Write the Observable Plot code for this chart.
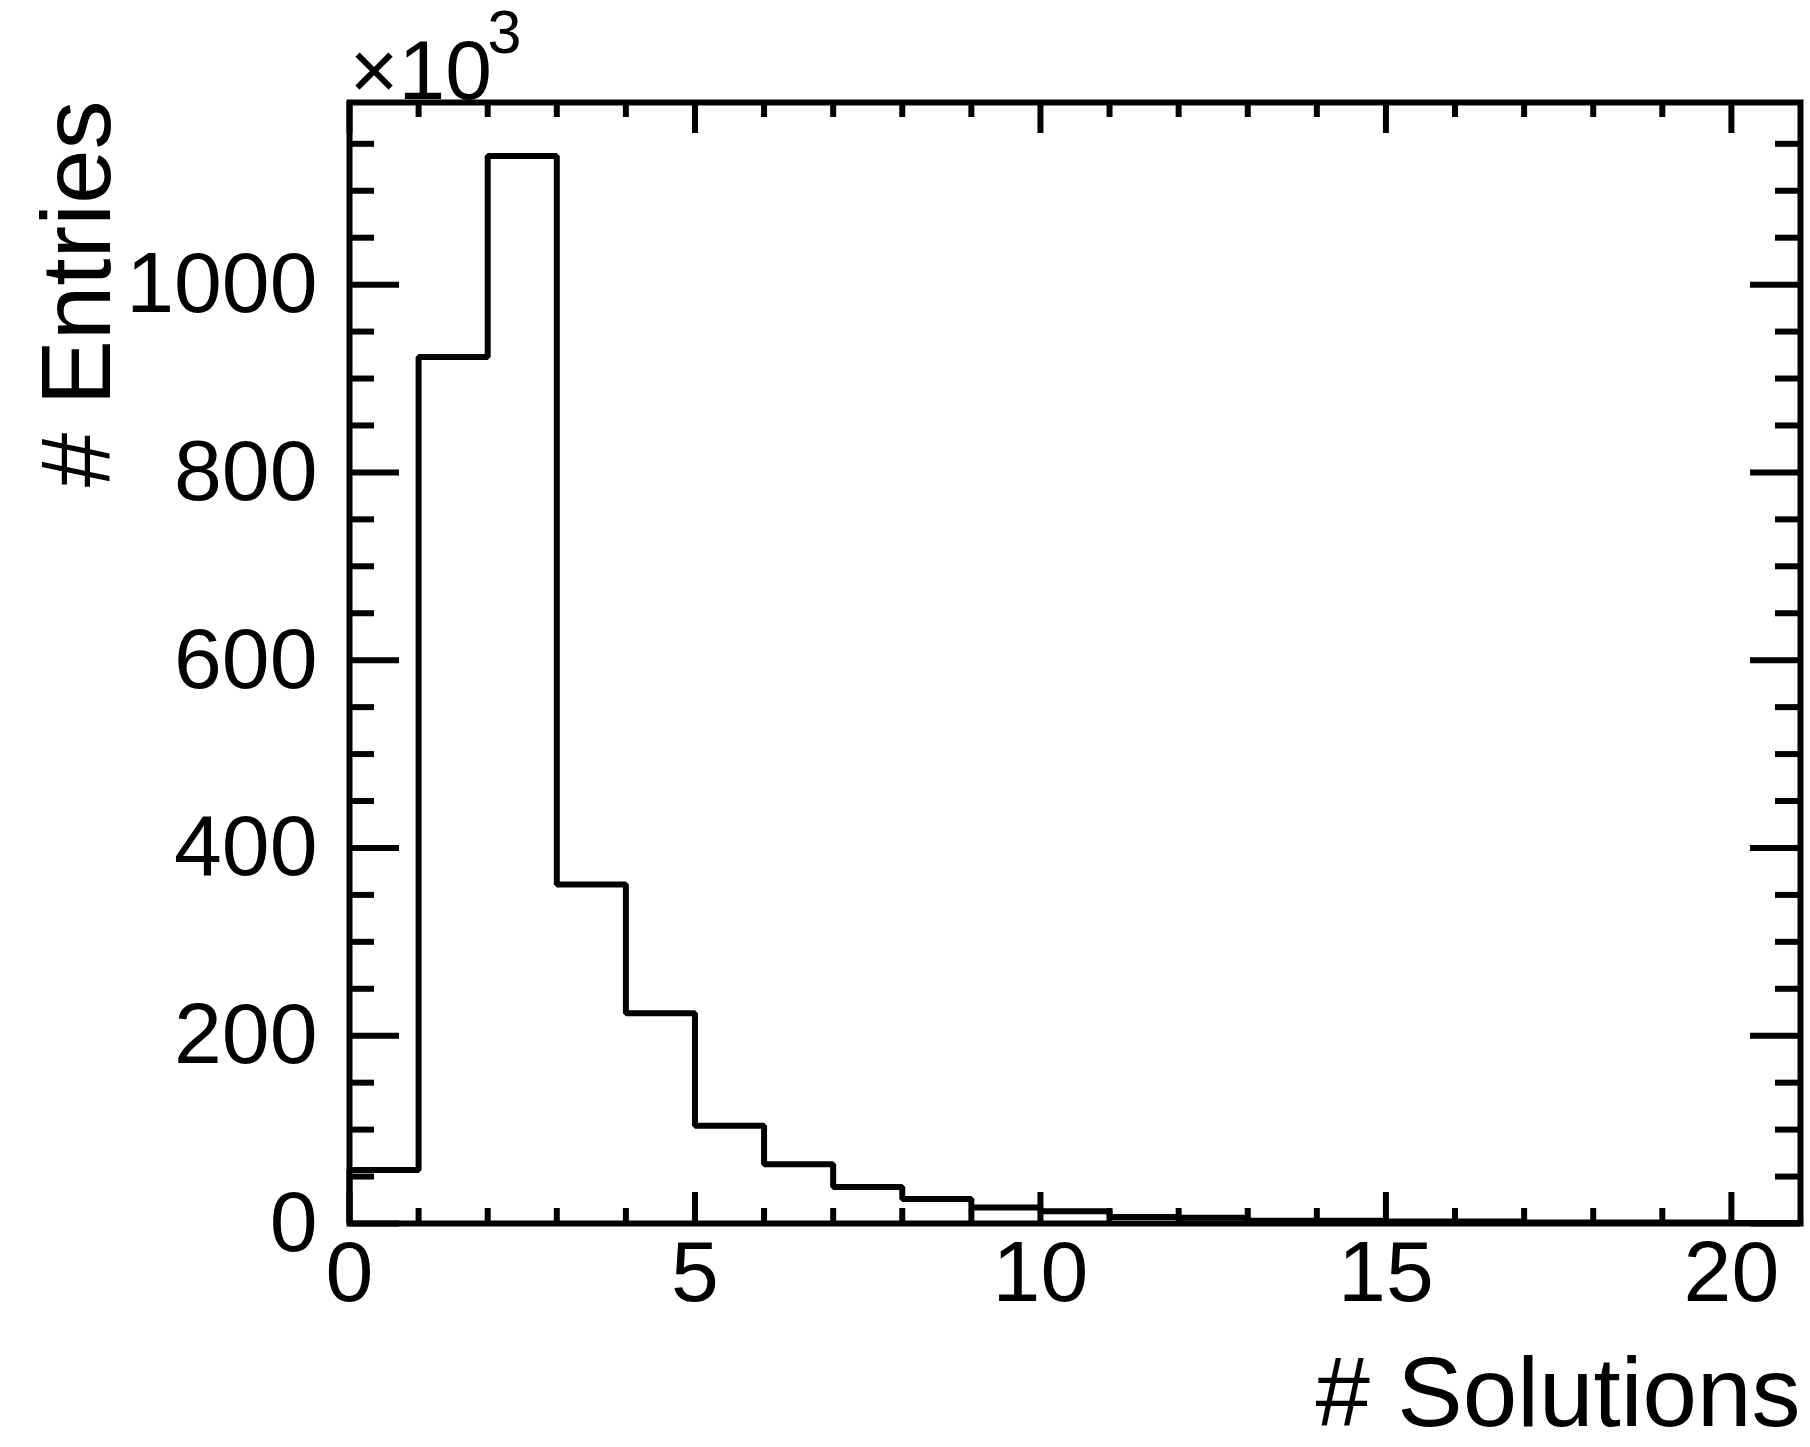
<!DOCTYPE html>
<html>
<head>
<meta charset="utf-8">
<script src="https://cdn.jsdelivr.net/npm/d3@7"></script>
<script src="https://cdn.jsdelivr.net/npm/@observablehq/plot@0.6"></script>
<style>
  html, body { margin: 0; padding: 0; background: #ffffff; }
  #chart svg { display: block; }
</style>
</head>
<body>
<div id="chart"></div>
<script>
// ---- data ----
const binLowEdges = [0, 1, 2, 3, 4, 5, 6, 7, 8, 9, 10, 11, 12, 13, 14, 15, 16, 17, 18, 19, 20];
const binWidth = 1;
const entries = [57, 923, 1137, 361, 224, 104, 63, 39, 26, 17, 13, 7, 6, 3, 3, 2, 2, 1, 1, 1, 0.5];

const xDomain = [0, 21];
const yDomain = [0, 1194];

const xMajorTicks = [0, 5, 10, 15, 20];
const xMinorTicks = [1, 2, 3, 4, 6, 7, 8, 9, 11, 12, 13, 14, 16, 17, 18, 19];
const yMajorTicks = [0, 200, 400, 600, 800, 1000];
const yMinorTicks = [50, 100, 150, 250, 300, 350, 450, 500, 550, 650, 700, 750, 850, 900, 950, 1050, 1100, 1150];

const xTitle = "# Solutions";
const yTitle = "# Entries";
const exponentBase = "×10";
const exponentPower = "3";

// ---- layout ----
const W = 1810, H = 1447;
const mL = 349, mR = 10, mT = 102, mB = 224;
const innerW = W - mL - mR;
const innerH = H - mT - mB;
const lw = 6;
const xMajLen = 31, xMinLen = 15, yMajLen = 50, yMinLen = 25;

// step outline of the histogram (ROOT style)
const stepPoints = [{x: binLowEdges[0], y: 0}];
binLowEdges.forEach((e, i) => stepPoints.push({x: e, y: entries[i]}));
const lastEdge = binLowEdges[binLowEdges.length - 1] + binWidth;
stepPoints.push({x: lastEdge, y: entries[entries.length - 1]});
stepPoints.push({x: lastEdge, y: 0});

const font = "'Liberation Sans', Arial, Helvetica, sans-serif";

const chart = Plot.plot({
  width: W,
  height: H,
  marginLeft: mL,
  marginRight: mR,
  marginTop: mT,
  marginBottom: mB,
  style: {fontFamily: font, background: "#ffffff", color: "#000000", overflow: "visible"},
  x: {domain: xDomain, nice: false},
  y: {domain: yDomain, nice: false},
  marks: [
    // histogram outline
    Plot.line(stepPoints, {x: "x", y: "y", curve: "step-after", stroke: "#000", strokeWidth: lw, strokeLinejoin: "miter", strokeLinecap: "butt"}),
    // ticks (inward, on all four sides)
    Plot.tickX(xMajorTicks, {x: d => d, insetTop: innerH - xMajLen, stroke: "#000", strokeWidth: lw}),
    Plot.tickX(xMajorTicks, {x: d => d, insetBottom: innerH - xMajLen, stroke: "#000", strokeWidth: lw}),
    Plot.tickX(xMinorTicks, {x: d => d, insetTop: innerH - xMinLen, stroke: "#000", strokeWidth: lw}),
    Plot.tickX(xMinorTicks, {x: d => d, insetBottom: innerH - xMinLen, stroke: "#000", strokeWidth: lw}),
    Plot.tickY(yMajorTicks, {y: d => d, insetRight: innerW - yMajLen, stroke: "#000", strokeWidth: lw}),
    Plot.tickY(yMajorTicks, {y: d => d, insetLeft: innerW - yMajLen, stroke: "#000", strokeWidth: lw}),
    Plot.tickY(yMinorTicks, {y: d => d, insetRight: innerW - yMinLen, stroke: "#000", strokeWidth: lw}),
    Plot.tickY(yMinorTicks, {y: d => d, insetLeft: innerW - yMinLen, stroke: "#000", strokeWidth: lw}),
    // frame
    Plot.frame({stroke: "#000", strokeWidth: lw}),
    // tick labels
    Plot.axisX(xMajorTicks, {tickSize: 0, tickPadding: 16, fontSize: 86, tickFormat: "d", label: null}),
    Plot.axisY(yMajorTicks, {tickSize: 0, tickPadding: 32, fontSize: 86, tickFormat: "d", label: null}),
    // axis titles
    Plot.text([xTitle], {frameAnchor: "bottom-right", text: d => d, textAnchor: "end", lineAnchor: "bottom", dy: 202, fontSize: 98, fill: "#000"}),
    Plot.text([yTitle], {frameAnchor: "top-left", text: d => d, rotate: -90, textAnchor: "end", lineAnchor: "bottom", dx: -240, dy: -2, fontSize: 98, fill: "#000"}),
    // exponent
    Plot.text([exponentBase], {frameAnchor: "top-left", text: d => d, textAnchor: "start", lineAnchor: "bottom", dx: 0, dy: -4, fontSize: 84, fill: "#000"}),
    Plot.text([exponentPower], {frameAnchor: "top-left", text: d => d, textAnchor: "start", lineAnchor: "bottom", dx: 138, dy: -50, fontSize: 61, fill: "#000"})
  ]
});
document.getElementById("chart").appendChild(chart);
</script>
</body>
</html>
